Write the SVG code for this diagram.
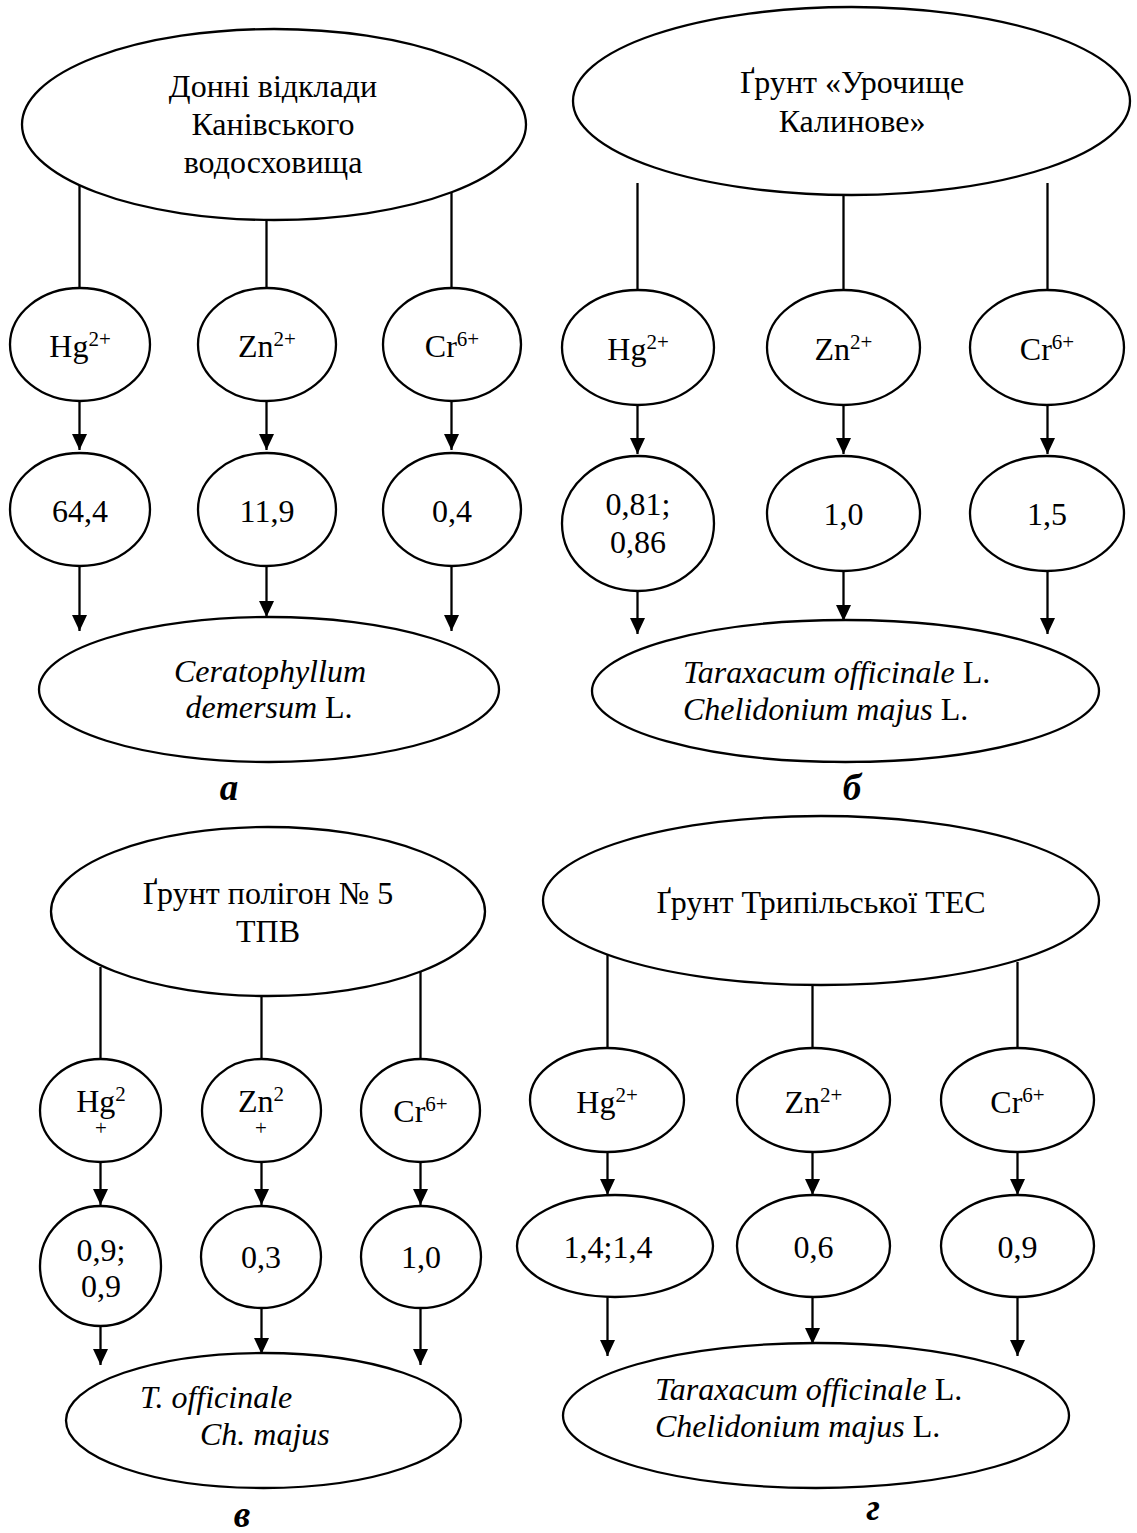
<svg xmlns="http://www.w3.org/2000/svg" width="1137" height="1533" viewBox="0 0 1137 1533">
<style>
.n{fill:#fff;stroke:#000;stroke-width:2.3}
.c{stroke:#000;stroke-width:2.3;fill:none}
.a{stroke:#000;stroke-width:2.3;fill:none;marker-end:url(#ah)}
text{font-family:"Liberation Serif","Times New Roman",serif;font-size:32px;fill:#000}
.m{text-anchor:middle}
.i{font-style:italic}
.lbl{font-size:37px;font-weight:bold;font-style:italic;text-anchor:middle}
.sup{font-size:21px}
.pl{font-size:21px;text-anchor:middle}
</style>
<defs>
<marker id="ah" markerUnits="userSpaceOnUse" markerWidth="16" markerHeight="15" refX="16" refY="7.5" orient="auto">
<path d="M0,0 L16,7.5 L0,15 Z" fill="#000"/>
</marker>
</defs>
<rect width="1137" height="1533" fill="#fff"/>

<g id="connectors">
<!-- panel a -->
<line class="c" x1="79.5" y1="185" x2="79.5" y2="288"/>
<line class="c" x1="266.5" y1="220" x2="266.5" y2="288"/>
<line class="c" x1="451.5" y1="192" x2="451.5" y2="288"/>
<line class="a" x1="79.5" y1="401" x2="79.5" y2="450"/>
<line class="a" x1="266.5" y1="401" x2="266.5" y2="450"/>
<line class="a" x1="451.5" y1="401" x2="451.5" y2="450"/>
<line class="a" x1="79.5" y1="566" x2="79.5" y2="631"/>
<line class="a" x1="266.5" y1="566" x2="266.5" y2="617"/>
<line class="a" x1="451.5" y1="566" x2="451.5" y2="631"/>
<!-- panel b -->
<line class="c" x1="637.5" y1="183" x2="637.5" y2="290"/>
<line class="c" x1="843.5" y1="195" x2="843.5" y2="290"/>
<line class="c" x1="1047.5" y1="183" x2="1047.5" y2="290"/>
<line class="a" x1="637.5" y1="405" x2="637.5" y2="454"/>
<line class="a" x1="843.5" y1="405" x2="843.5" y2="454"/>
<line class="a" x1="1047.5" y1="405" x2="1047.5" y2="454"/>
<line class="a" x1="637.5" y1="591" x2="637.5" y2="634"/>
<line class="a" x1="843.5" y1="571" x2="843.5" y2="621"/>
<line class="a" x1="1047.5" y1="571" x2="1047.5" y2="634"/>
<!-- panel v -->
<line class="c" x1="100.5" y1="967" x2="100.5" y2="1059"/>
<line class="c" x1="261.5" y1="996" x2="261.5" y2="1059"/>
<line class="c" x1="420.5" y1="972" x2="420.5" y2="1059"/>
<line class="a" x1="100.5" y1="1162" x2="100.5" y2="1205"/>
<line class="a" x1="261.5" y1="1162" x2="261.5" y2="1205"/>
<line class="a" x1="420.5" y1="1162" x2="420.5" y2="1205"/>
<line class="a" x1="100.5" y1="1326" x2="100.5" y2="1365"/>
<line class="a" x1="261.5" y1="1308" x2="261.5" y2="1354"/>
<line class="a" x1="420.5" y1="1308" x2="420.5" y2="1365"/>
<!-- panel g -->
<line class="c" x1="607.5" y1="955" x2="607.5" y2="1048"/>
<line class="c" x1="812.5" y1="985" x2="812.5" y2="1048"/>
<line class="c" x1="1017.5" y1="962" x2="1017.5" y2="1048"/>
<line class="a" x1="607.5" y1="1152" x2="607.5" y2="1195"/>
<line class="a" x1="812.5" y1="1152" x2="812.5" y2="1195"/>
<line class="a" x1="1017.5" y1="1152" x2="1017.5" y2="1195"/>
<line class="a" x1="607.5" y1="1297" x2="607.5" y2="1356"/>
<line class="a" x1="812.5" y1="1297" x2="812.5" y2="1344"/>
<line class="a" x1="1017.5" y1="1297" x2="1017.5" y2="1356"/>
</g>

<!-- ===== Panel a ===== -->
<g id="a-source">
<ellipse class="n" cx="274" cy="124.5" rx="252" ry="95.5"/>
<text class="m" x="273" y="97">Донні відклади</text>
<text class="m" x="273" y="135">Канівського</text>
<text class="m" x="273" y="173">водосховища</text>
</g>
<g id="a-hg"><ellipse class="n" cx="80" cy="344.5" rx="70" ry="56.5"/><text class="m" x="80" y="357">Hg<tspan class="sup" dy="-11">2+</tspan></text></g>
<g id="a-zn"><ellipse class="n" cx="267" cy="344.5" rx="69" ry="56.5"/><text class="m" x="267" y="357">Zn<tspan class="sup" dy="-11">2+</tspan></text></g>
<g id="a-cr"><ellipse class="n" cx="452" cy="344.5" rx="69" ry="56.5"/><text class="m" x="452" y="357">Cr<tspan class="sup" dy="-11">6+</tspan></text></g>
<g id="a-v1"><ellipse class="n" cx="80" cy="509.5" rx="70" ry="56.5"/><text class="m" x="80" y="522">64,4</text></g>
<g id="a-v2"><ellipse class="n" cx="267" cy="509.5" rx="69" ry="56.5"/><text class="m" x="267" y="522">11,9</text></g>
<g id="a-v3"><ellipse class="n" cx="452" cy="509.5" rx="69" ry="56.5"/><text class="m" x="452" y="522">0,4</text></g>
<g id="a-plant">
<ellipse class="n" cx="269" cy="689.5" rx="230" ry="72.5"/>
<text class="m i" x="270" y="682">Ceratophyllum</text>
<text class="m" x="269" y="718"><tspan class="i">demersum</tspan> L.</text>
</g>
<g id="a-label"><text class="lbl" x="229" y="800">а</text></g>

<!-- ===== Panel b ===== -->
<g id="b-source">
<ellipse class="n" cx="851.5" cy="101" rx="278.5" ry="94"/>
<text class="m" x="852" y="93">Ґрунт «Урочище</text>
<text class="m" x="852" y="132">Калинове»</text>
</g>
<g id="b-hg"><ellipse class="n" cx="638" cy="347.5" rx="76" ry="57.5"/><text class="m" x="638" y="360">Hg<tspan class="sup" dy="-11">2+</tspan></text></g>
<g id="b-zn"><ellipse class="n" cx="843.5" cy="347.5" rx="76.5" ry="57.5"/><text class="m" x="843.5" y="360">Zn<tspan class="sup" dy="-11">2+</tspan></text></g>
<g id="b-cr"><ellipse class="n" cx="1047" cy="347.5" rx="77" ry="57.5"/><text class="m" x="1047" y="360">Cr<tspan class="sup" dy="-11">6+</tspan></text></g>
<g id="b-v1"><ellipse class="n" cx="638" cy="523.5" rx="76" ry="67.5"/><text class="m" x="638" y="515">0,81;</text><text class="m" x="638" y="553">0,86</text></g>
<g id="b-v2"><ellipse class="n" cx="843.5" cy="513.5" rx="76.5" ry="57.5"/><text class="m" x="843.5" y="525">1,0</text></g>
<g id="b-v3"><ellipse class="n" cx="1047" cy="513.5" rx="77" ry="57.5"/><text class="m" x="1047" y="525">1,5</text></g>
<g id="b-plant">
<ellipse class="n" cx="845.5" cy="691" rx="253.5" ry="71"/>
<text x="683" y="683"><tspan class="i">Taraxacum officinale</tspan> L.</text>
<text x="683" y="720"><tspan class="i">Chelidonium majus</tspan> L.</text>
</g>
<g id="b-label"><text class="lbl" x="852" y="800">б</text></g>

<!-- ===== Panel v ===== -->
<g id="v-source">
<ellipse class="n" cx="268" cy="911.5" rx="217" ry="84.5"/>
<text class="m" x="268" y="904">Ґрунт полігон № 5</text>
<text class="m" x="268" y="942">ТПВ</text>
</g>
<g id="v-hg"><ellipse class="n" cx="100.5" cy="1110.5" rx="60.5" ry="51.5"/><text class="m" x="101" y="1112">Hg<tspan class="sup" dy="-11">2</tspan></text><text class="pl" x="101" y="1135">+</text></g>
<g id="v-zn"><ellipse class="n" cx="261.5" cy="1110.5" rx="59.5" ry="51.5"/><text class="m" x="261" y="1112">Zn<tspan class="sup" dy="-11">2</tspan></text><text class="pl" x="261" y="1135">+</text></g>
<g id="v-cr"><ellipse class="n" cx="420.5" cy="1110.5" rx="59.5" ry="51.5"/><text class="m" x="420.5" y="1122">Cr<tspan class="sup" dy="-11">6+</tspan></text></g>
<g id="v-v1"><ellipse class="n" cx="100.5" cy="1266" rx="60.5" ry="60"/><text class="m" x="101" y="1261">0,9;</text><text class="m" x="101" y="1297">0,9</text></g>
<g id="v-v2"><ellipse class="n" cx="261" cy="1257" rx="60" ry="51"/><text class="m" x="261" y="1268">0,3</text></g>
<g id="v-v3"><ellipse class="n" cx="421" cy="1257" rx="60" ry="51"/><text class="m" x="421" y="1268">1,0</text></g>
<g id="v-plant">
<ellipse class="n" cx="263.5" cy="1420.5" rx="197.5" ry="67.5"/>
<text class="i" x="140" y="1408">T. officinale</text>
<text class="i" x="200" y="1445">Ch. majus</text>
</g>
<g id="v-label"><text class="lbl" x="242" y="1527">в</text></g>

<!-- ===== Panel g ===== -->
<g id="g-source">
<ellipse class="n" cx="821" cy="900.5" rx="278" ry="84.5"/>
<text class="m" x="821" y="913">Ґрунт Трипільської ТЕС</text>
</g>
<g id="g-hg"><ellipse class="n" cx="607" cy="1100" rx="77" ry="52"/><text class="m" x="607" y="1113">Hg<tspan class="sup" dy="-11">2+</tspan></text></g>
<g id="g-zn"><ellipse class="n" cx="813.5" cy="1100" rx="76.5" ry="52"/><text class="m" x="813.5" y="1113">Zn<tspan class="sup" dy="-11">2+</tspan></text></g>
<g id="g-cr"><ellipse class="n" cx="1017.5" cy="1100" rx="76.5" ry="52"/><text class="m" x="1017.5" y="1113">Cr<tspan class="sup" dy="-11">6+</tspan></text></g>
<g id="g-v1"><ellipse class="n" cx="615" cy="1246" rx="98" ry="51"/><text class="m" x="608" y="1258">1,4;1,4</text></g>
<g id="g-v2"><ellipse class="n" cx="813.5" cy="1246" rx="76.5" ry="51"/><text class="m" x="813.5" y="1258">0,6</text></g>
<g id="g-v3"><ellipse class="n" cx="1017.5" cy="1246" rx="76.5" ry="51"/><text class="m" x="1017.5" y="1258">0,9</text></g>
<g id="g-plant">
<ellipse class="n" cx="816" cy="1415.5" rx="253" ry="72.5"/>
<text x="655" y="1400"><tspan class="i">Taraxacum officinale</tspan> L.</text>
<text x="655" y="1437"><tspan class="i">Chelidonium majus</tspan> L.</text>
</g>
<g id="g-label"><text class="lbl" x="873" y="1520">г</text></g>
</svg>
